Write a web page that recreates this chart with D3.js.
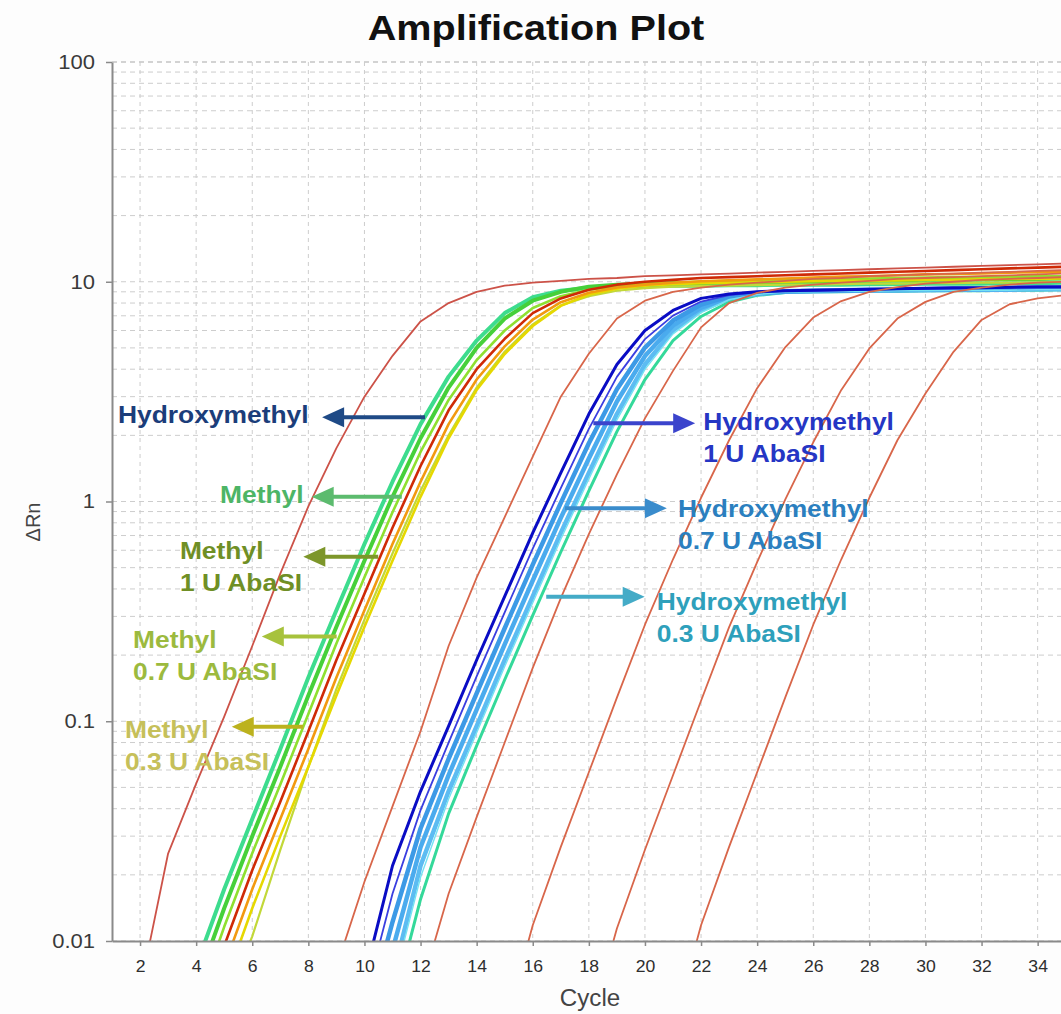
<!DOCTYPE html>
<html>
<head>
<meta charset="utf-8">
<script src="https://cdn.jsdelivr.net/npm/d3@7"></script>
<style>
  html, body { margin: 0; padding: 0; background: #fdfdfd; }
  svg { display: block; font-family: "Liberation Sans", Arial, sans-serif; }
</style>
</head>
<body>
<svg id="chart" width="1061" height="1014"></svg>
<script>
// axis ticks
const xTicks = [2, 4, 6, 8, 10, 12, 14, 16, 18, 20, 22, 24, 26, 28, 30, 32, 34];
const yTicks = [0.01, 0.1, 1, 10, 100];
const yTickLabels = ["0.01", "0.1", "1", "10", "100"];

// standard dilution curves, one value per cycle from the given start cycle
const std1Start = 2;
const std1 = [0.006, 0.025, 0.052, 0.105, 0.22, 0.47, 0.95, 1.75, 3.0, 4.6, 6.6, 8.0, 9.0, 9.6, 9.9, 10.1, 10.3, 10.4, 10.6, 10.7, 10.8, 10.9, 11.0, 11.1, 11.2, 11.3, 11.4, 11.5, 11.6, 11.7, 11.8, 11.9, 12.0, 12.1];
const std2Start = 9;
const std2 = [0.0076, 0.0186, 0.041, 0.09, 0.22, 0.45, 0.85, 1.6, 3.0, 4.7, 6.8, 8.2, 9.0, 9.4, 9.7, 9.9, 10.1, 10.3, 10.4, 10.6, 10.7, 10.8, 10.9, 11.0, 11.1, 11.2, 11.3];
const std3Start = 12;
const std3 = [0.006, 0.0164, 0.0366, 0.08, 0.175, 0.363, 0.71, 1.33, 2.39, 3.93, 6.2, 8.0, 8.9, 9.4, 9.7, 9.9, 10.1, 10.3, 10.4, 10.5, 10.6, 10.7, 10.8, 10.9];
const std4Start = 15;
const std4 = [0.004, 0.0118, 0.0268, 0.0586, 0.128, 0.275, 0.546, 1.04, 1.9, 3.28, 5.03, 6.87, 8.17, 9.0, 9.45, 9.8, 10.0, 10.2, 10.3, 10.4, 10.5];
const std5Start = 18;
const std5 = [0.004, 0.0114, 0.026, 0.0568, 0.124, 0.268, 0.53, 1.02, 1.86, 3.22, 4.97, 6.8, 8.1, 9.0, 9.4, 9.7, 9.9, 10.0];
const std6Start = 21;
const std6 = [0.004, 0.0118, 0.0268, 0.0586, 0.128, 0.275, 0.546, 1.04, 1.9, 3.1, 4.8, 6.7, 7.9, 8.4, 8.7];

// methyl samples (cycles 4..35)
const methylStart = 4;
const mTeal   = [0.0077, 0.0172, 0.0359, 0.0748, 0.158, 0.32, 0.64, 1.23, 2.25, 3.7, 5.4, 7.2, 8.5, 9.1, 9.4, 9.5, 9.55, 9.6, 9.6, 9.65, 9.65, 9.7, 9.7, 9.7, 9.75, 9.75, 9.8, 9.8, 9.8, 9.85, 9.85, 9.9];
const mGreen  = [0.0062, 0.0141, 0.030, 0.0621, 0.131, 0.269, 0.538, 1.05, 1.94, 3.3, 5.0, 6.8, 8.2, 9.0, 9.5, 9.7, 9.8, 9.85, 9.9, 9.95, 10.0, 10.0, 10.05, 10.1, 10.1, 10.15, 10.2, 10.2, 10.25, 10.3, 10.3, 10.35];
const mLime   = [0.005, 0.0116, 0.0251, 0.0516, 0.108, 0.226, 0.452, 0.893, 1.68, 2.9, 4.4, 6.0, 7.6, 8.6, 9.2, 9.6, 9.8, 9.9, 10.0, 10.1, 10.15, 10.2, 10.25, 10.3, 10.35, 10.4, 10.45, 10.5, 10.5, 10.55, 10.6, 10.6];
const mOlive  = [0.0022, 0.005, 0.0105, 0.026, 0.062, 0.14, 0.29, 0.58, 1.12, 2.0, 3.3, 4.8, 6.4, 7.8, 8.6, 9.1, 9.35, 9.5, 9.55, 9.6, 9.65, 9.7, 9.7, 9.75, 9.8, 9.8, 9.85, 9.85, 9.9, 9.9, 9.95, 10.0];
const mYellow = [0.0027, 0.0062, 0.0141, 0.030, 0.0621, 0.131, 0.269, 0.538, 1.05, 1.94, 3.22, 4.69, 6.29, 7.77, 8.74, 9.3, 9.6, 9.75, 9.85, 9.9, 9.95, 10.0, 10.05, 10.1, 10.1, 10.15, 10.2, 10.2, 10.25, 10.3, 10.3, 10.35];
const mOrange = [0.0033, 0.0077, 0.0172, 0.0359, 0.0748, 0.158, 0.32, 0.64, 1.23, 2.25, 3.59, 5.08, 6.73, 8.07, 8.91, 9.42, 9.7, 9.9, 10.05, 10.15, 10.25, 10.35, 10.45, 10.55, 10.6, 10.7, 10.8, 10.85, 10.9, 11.0, 11.05, 11.1];
const mRed    = [0.004, 0.0095, 0.021, 0.043, 0.09, 0.19, 0.38, 0.76, 1.45, 2.6, 4.0, 5.5, 7.2, 8.4, 9.2, 9.7, 10.0, 10.2, 10.4, 10.5, 10.6, 10.7, 10.8, 10.9, 11.0, 11.1, 11.2, 11.3, 11.4, 11.5, 11.6, 11.7];

// hydroxymethyl + AbaSI samples (cycles 10..35)
const hmStart = 10;
const bTeal = [0.0019, 0.005, 0.0155, 0.038, 0.0774, 0.1545, 0.303, 0.589, 1.117, 2.08, 3.59, 5.39, 6.95, 8.09, 8.67, 8.93, 9.0, 9.0, 9.05, 9.05, 9.1, 9.1, 9.1, 9.15, 9.15, 9.2];
const bCyan = [0.0023, 0.0062, 0.0195, 0.0443, 0.0887, 0.1774, 0.346, 0.673, 1.267, 2.35, 3.99, 5.79, 7.24, 8.29, 8.75, 8.97, 9.0, 9.05, 9.05, 9.1, 9.1, 9.15, 9.15, 9.15, 9.2, 9.2];
const bSky3 = [0.0025, 0.0068, 0.022, 0.048, 0.095, 0.19, 0.37, 0.72, 1.35, 2.5, 4.2, 6.0, 7.4, 8.4, 8.8, 9.0, 9.05, 9.1, 9.1, 9.15, 9.15, 9.2, 9.2, 9.2, 9.25, 9.25];
const bSky2 = [0.0032, 0.0091, 0.0267, 0.0569, 0.113, 0.224, 0.437, 0.842, 1.57, 2.85, 4.59, 6.32, 7.63, 8.49, 8.84, 9.03, 9.08, 9.1, 9.15, 9.15, 9.2, 9.2, 9.25, 9.25, 9.3, 9.3];
const bSky1 = [0.0041, 0.0122, 0.0325, 0.0675, 0.134, 0.265, 0.516, 0.985, 1.84, 3.24, 5.02, 6.66, 7.88, 8.59, 8.89, 9.05, 9.1, 9.15, 9.2, 9.2, 9.25, 9.3, 9.3, 9.35, 9.35, 9.4];
const bBlue = [0.0053, 0.0164, 0.0394, 0.080, 0.16, 0.313, 0.61, 1.15, 2.14, 3.69, 5.48, 7.01, 8.13, 8.69, 8.94, 9.06, 9.1, 9.15, 9.2, 9.25, 9.3, 9.3, 9.35, 9.4, 9.4, 9.45];
const bNavy = [0.0068, 0.022, 0.048, 0.095, 0.19, 0.37, 0.72, 1.35, 2.5, 4.2, 6.0, 7.4, 8.4, 8.8, 9.0, 9.1, 9.15, 9.2, 9.25, 9.3, 9.35, 9.4, 9.4, 9.45, 9.5, 9.5];

// annotation labels
const noteLines = [
  ["Hydroxymethyl"],
  ["Methyl"],
  ["Methyl", "1 U AbaSI"],
  ["Methyl", "0.7 U AbaSI"],
  ["Methyl", "0.3 U AbaSI"],
  ["Hydroxymethyl", "1 U AbaSI"],
  ["Hydroxymethyl", "0.7 U AbaSI"],
  ["Hydroxymethyl", "0.3 U AbaSI"]
];

const W = 1061, H = 1014;
const plotLeft = 112, plotTop = 62, plotBottom = 941;

const x = d3.scaleLinear().domain([1, 35]).range([plotLeft, plotLeft + 34 * 28.05]);
const y = d3.scaleLog().domain([0.01, 100]).range([plotBottom, plotTop]);

const svg = d3.select("#chart");
svg.append("rect").attr("width", W).attr("height", H).attr("fill", "#fdfdfd");
svg.append("rect").attr("x", plotLeft).attr("y", plotTop)
  .attr("width", W - plotLeft).attr("height", plotBottom - plotTop).attr("fill", "#fff");

svg.append("defs").append("clipPath").attr("id", "plotClip")
  .append("rect").attr("x", plotLeft).attr("y", plotTop)
  .attr("width", W - plotLeft).attr("height", plotBottom - plotTop);

// grid
const grid = svg.append("g");
grid.selectAll(".hgrid").data(y.ticks()).join("line")
  .attr("x1", plotLeft).attr("x2", W)
  .attr("y1", d => y(d)).attr("y2", d => y(d))
  .attr("stroke", d => d === 100 ? "#a8a8a8" : "#cdcdcd")
  .attr("stroke-width", 1)
  .attr("stroke-dasharray", "5,4");
grid.selectAll(".vgrid").data(xTicks).join("line")
  .attr("x1", d => x(d)).attr("x2", d => x(d))
  .attr("y1", plotTop).attr("y2", plotBottom)
  .attr("stroke", "#cdcdcd")
  .attr("stroke-width", 1)
  .attr("stroke-dasharray", "4,4");

// curve table (drawn in this order)
const curveTable = [
  { values: mTeal, start: methylStart, color: "#3ddc8e", width: 4 },
  { values: mGreen, start: methylStart, color: "#46d03a", width: 4 },
  { values: mLime, start: methylStart, color: "#8fe030", width: 2.6 },
  { values: mOlive, start: methylStart, color: "#c2d838", width: 2.2 },
  { values: mYellow, start: methylStart, color: "#e6d800", width: 2.6 },
  { values: mOrange, start: methylStart, color: "#f29a10", width: 2.6 },
  { values: mRed, start: methylStart, color: "#cf2a06", width: 2.6 },
  { values: bTeal, start: hmStart, color: "#34d99a", width: 3 },
  { values: bSky3, start: hmStart, color: "#5cbcf2", width: 4.5 },
  { values: bSky2, start: hmStart, color: "#4aabee", width: 4.5 },
  { values: bSky1, start: hmStart, color: "#3c9ae6", width: 4.5 },
  { values: bCyan, start: hmStart, color: "#74e2f2", width: 1.4 },
  { values: bBlue, start: hmStart, color: "#3a3ee0", width: 1.8 },
  { values: bNavy, start: hmStart, color: "#0a0cc4", width: 3 },
  { values: std1, start: std1Start, color: "#cc5248", width: 1.8 },
  { values: std2, start: std2Start, color: "#d8664a", width: 1.8 },
  { values: std3, start: std3Start, color: "#d8664a", width: 1.8 },
  { values: std4, start: std4Start, color: "#d8664a", width: 1.8 },
  { values: std5, start: std5Start, color: "#d8664a", width: 1.8 },
  { values: std6, start: std6Start, color: "#d8664a", width: 1.8 }
];

const line = d3.line().x(d => x(d.c)).y(d => y(d.v));

svg.append("g").attr("clip-path", "url(#plotClip)")
  .selectAll("path").data(curveTable).join("path")
  .attr("d", d => line(d.values.map((v, i) => ({ c: d.start + i, v }))))
  .attr("fill", "none")
  .attr("stroke", d => d.color)
  .attr("stroke-width", d => d.width)
  .attr("stroke-linejoin", "round");

// axes
const yAxis = svg.append("g").attr("transform", `translate(${plotLeft},0)`)
  .call(d3.axisLeft(y).tickValues(yTicks).tickFormat((d, i) => yTickLabels[i])
    .tickSize(6).tickPadding(9.5).tickSizeOuter(0));
yAxis.select(".domain").attr("stroke", "#8a8a8a").attr("stroke-width", 2);
yAxis.selectAll(".tick line").attr("stroke", "#8a8a8a").attr("stroke-width", 1.5);
yAxis.selectAll(".tick text")
  .attr("font-size", 20).attr("fill", "#3a3a3a")
  .attr("font-family", "'Liberation Sans', Arial, sans-serif")
  .attr("transform", "scale(1.1,1)");

const xAxis = svg.append("g").attr("transform", `translate(0,${plotBottom})`)
  .call(d3.axisBottom(x).tickValues(xTicks).tickSize(5).tickPadding(15).tickSizeOuter(0));
xAxis.select(".domain").attr("stroke", "#8a8a8a").attr("stroke-width", 2);
xAxis.selectAll(".tick line").attr("stroke", "#8a8a8a").attr("stroke-width", 1.5);
xAxis.selectAll(".tick text")
  .attr("font-size", 16).attr("fill", "#2e2e2e")
  .attr("font-family", "'Liberation Sans', Arial, sans-serif")
  .attr("transform", "scale(1.1,1)");

// titles
svg.append("text")
  .attr("transform", "translate(536,40) scale(1.1,1)")
  .attr("text-anchor", "middle")
  .attr("font-weight", "bold")
  .attr("font-size", 36)
  .attr("fill", "#111")
  .text("Amplification Plot");

svg.append("text")
  .attr("transform", "translate(590,1006) scale(1.05,1)")
  .attr("text-anchor", "middle")
  .attr("font-size", 23)
  .attr("fill", "#444")
  .text("Cycle");

svg.append("text")
  .attr("transform", "translate(40,522) rotate(-90)")
  .attr("text-anchor", "middle")
  .attr("font-size", 20)
  .attr("fill", "#444")
  .text("ΔRn");

// annotations: text anchor (cycle, ΔRn), arrow tail -> tip at one ΔRn level
const notes = [
  { text: [1.21, 2.28], arrow: [12.16, 8.49, 2.42], color: "#1b3d7a", arrowColor: "#1f4a86" },
  { text: [4.85, 0.984], arrow: [11.33, 8.12, 1.05], color: "#4db566", arrowColor: "#5cbb6e" },
  { text: [3.42, 0.547], arrow: [10.49, 7.82, 0.561], color: "#6f8f25", arrowColor: "#7d962a" },
  { text: [1.75, 0.2154], arrow: [9.01, 6.34, 0.243], color: "#9cba3e", arrowColor: "#a7c23c" },
  { text: [1.46, 0.0839], arrow: [7.82, 5.27, 0.0944], color: "#c6c05a", arrowColor: "#bcb21e" },
  { text: [22.08, 2.115], arrow: [18.16, 21.79, 2.27], color: "#2536c4", arrowColor: "#3b44cc" },
  { text: [21.18, 0.853], arrow: [17.15, 20.78, 0.931], color: "#2b7fbf", arrowColor: "#3a8ccc" },
  { text: [20.42, 0.321], arrow: [16.48, 19.99, 0.369], color: "#2ea0bb", arrowColor: "#44abc7" }
];

const noteLayer = svg.append("g");
notes.forEach((n, i) => {
  const ay = y(n.arrow[2]);
  const tail = x(n.arrow[0]);
  const tip = x(n.arrow[1]);
  const dir = tip > tail ? 1 : -1;
  const headLen = 22, headHalf = 10;
  noteLayer.append("line")
    .attr("x1", tail).attr("x2", tip - dir * (headLen - 2))
    .attr("y1", ay).attr("y2", ay)
    .attr("stroke", n.arrowColor).attr("stroke-width", 4);
  noteLayer.append("path")
    .attr("d", `M${tip},${ay}L${tip - dir * headLen},${ay - headHalf}L${tip - dir * headLen},${ay + headHalf}Z`)
    .attr("fill", n.arrowColor);

  const t = noteLayer.append("text")
    .attr("transform", `translate(${x(n.text[0])},${y(n.text[1])}) scale(1.1,1)`)
    .attr("font-size", 24)
    .attr("font-weight", "bold")
    .attr("fill", n.color);
  noteLines[i].forEach((s, k) => {
    t.append("tspan").attr("x", 0).attr("dy", k === 0 ? 0 : 32).text(s);
  });
});
</script>
</body>
</html>
